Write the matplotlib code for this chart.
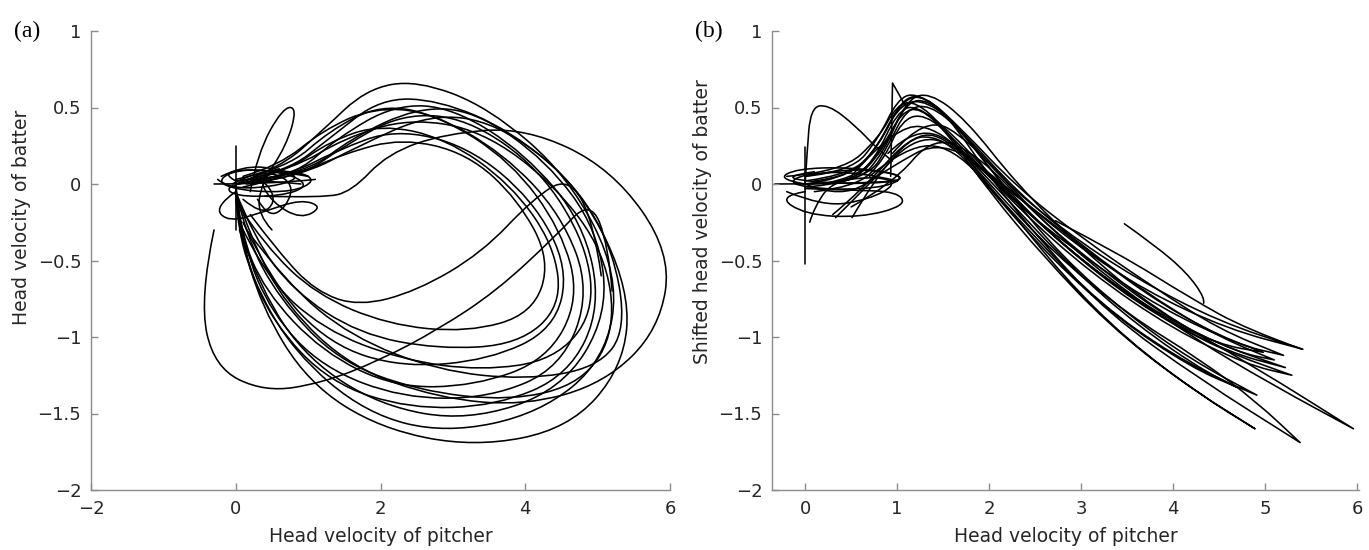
import numpy as np
import matplotlib
matplotlib.use("Agg")
import matplotlib.pyplot as plt
from matplotlib.path import Path
from matplotlib.patches import PathPatch

# ---------------- data (control points) ----------------
# Panel (a): head velocity of pitcher (x) vs head velocity of batter (y)
a_loop01 = [(0.05,0.02),(0.7,0.08),(1.3,0.3),(2.0,0.56),(2.8,0.55),(3.8,0.35),(4.8,-0.05),(5.45,-0.7),(5.35,-1.2),(4.6,-1.6),(3.3,-1.72),(2.0,-1.6),(1.0,-1.3),(0.35,-0.8),(0.05,-0.3),(0.0,0.0)]
a_loop02 = [(0.0,0.0),(0.6,0.1),(1.2,0.35),(1.8,0.62),(2.5,0.68),(3.5,0.5),(4.6,0.05),(5.3,-0.6),(5.1,-1.15),(4.2,-1.5),(2.9,-1.63),(1.8,-1.5),(0.8,-1.1),(0.2,-0.6),(0.0,-0.2),(0.0,0.0)]
a_loop03 = [(0.1,-0.02),(0.8,0.05),(1.4,0.3),(2.2,0.52),(3.0,0.5),(4.0,0.2),(4.8,-0.25),(5.05,-0.8),(4.6,-1.25),(3.6,-1.45),(2.4,-1.47),(1.3,-1.3),(0.5,-0.9),(0.1,-0.45),(0.0,-0.1)]
a_loop04 = [(0.0,0.03),(0.7,0.1),(1.3,0.35),(2.0,0.52),(2.8,0.45),(3.8,0.15),(4.5,-0.3),(4.75,-0.75),(4.3,-1.15),(3.3,-1.32),(2.2,-1.33),(1.2,-1.1),(0.4,-0.7),(0.05,-0.3),(0.0,0.0)]
a_loop05 = [(0.2,0.0),(0.9,0.05),(1.5,0.25),(2.3,0.46),(3.2,0.43),(4.2,0.1),(4.85,-0.4),(4.95,-0.85),(4.4,-1.15),(3.4,-1.22),(2.3,-1.15),(1.2,-0.95),(0.4,-0.6),(0.05,-0.25)]
a_loop06 = [(0.1,0.02),(0.8,0.1),(1.5,0.3),(2.4,0.43),(3.4,0.35),(4.4,0.0),(5.1,-0.45),(5.25,-0.95),(4.8,-1.3),(3.8,-1.42),(2.5,-1.35),(1.4,-1.15),(0.6,-0.75),(0.15,-0.35),(0.0,-0.05)]
a_loop07 = [(0.05,0.0),(0.7,0.08),(1.3,0.28),(2.0,0.39),(2.9,0.3),(3.8,0.0),(4.4,-0.4),(4.5,-0.8),(3.9,-1.05),(2.8,-1.08),(1.7,-0.98),(0.8,-0.7),(0.25,-0.35),(0.0,-0.05)]
a_loop08 = [(0.3,0.02),(1.0,0.08),(1.6,0.3),(2.5,0.5),(3.3,0.48),(4.3,0.15),(5.0,-0.3),(5.15,-0.85),(4.5,-1.35),(3.2,-1.55),(2.0,-1.45),(1.0,-1.15),(0.35,-0.7),(0.05,-0.3)]
a_loop09 = [(0.0,0.0),(0.7,0.05),(1.4,0.22),(2.2,0.36),(3.2,0.25),(4.1,-0.1),(4.6,-0.55),(4.4,-0.95),(3.5,-1.15),(2.3,-1.2),(1.3,-1.05),(0.5,-0.65),(0.1,-0.25)]
a_loop10 = [(0.15,0.0),(0.9,0.05),(1.7,0.25),(2.7,0.46),(3.6,0.4),(4.6,0.05),(5.2,-0.4),(5.4,-0.95),(5.0,-1.2),(4.0,-1.28),(2.8,-1.22),(1.6,-1.0),(0.7,-0.65),(0.15,-0.3)]
a_loop11 = [(0.0,0.02),(0.8,0.05),(1.5,0.2),(2.3,0.3),(3.2,0.2),(3.9,-0.1),(4.35,-0.5),(4.1,-0.85),(3.2,-0.97),(2.1,-0.92),(1.1,-0.72),(0.4,-0.4),(0.05,-0.15)]
a_loop12 = [(0.1,0.05),(0.6,0.12),(1.2,0.35),(1.9,0.5),(2.7,0.47),(3.7,0.2),(4.5,-0.2),(4.9,-0.7),(4.5,-1.2),(3.5,-1.4),(2.3,-1.4),(1.2,-1.2),(0.5,-0.85),(0.1,-0.4),(0.0,-0.05)]
a_loop13 = [(0.4,-0.08),(1.2,-0.09),(1.6,-0.05),(2.1,0.2),(2.9,0.33),(4.0,0.37),(5.2,0.1),(6.02,-0.45),(5.85,-0.95),(5.1,-1.3),(4.0,-1.45),(2.8,-1.4),(1.6,-1.2),(0.7,-0.8),(0.2,-0.35),(0.0,-0.05)]
a_loop14 = [(-0.3,-0.3),(-0.5,-0.75),(-0.3,-1.2),(0.4,-1.36),(1.2,-1.3),(2.0,-1.15),(2.8,-0.95),(3.6,-0.7),(4.4,-0.35),(4.9,-0.1),(5.15,-0.4),(5.2,-0.7)]
a_loop15 = [(0.2,-0.2),(0.6,-0.45),(1.1,-0.7),(1.7,-0.8),(2.5,-0.7),(3.4,-0.45),(4.1,-0.1),(4.6,0.05),(4.95,-0.25),(5.05,-0.6)]
a_tangle1 = [(-0.05,0.0),(0.3,0.09),(0.9,0.08),(1.1,0.02),(0.8,-0.05),(0.2,-0.05),(-0.25,0.0),(-0.1,0.08),(0.4,0.1),(1.0,0.05)]
a_tangle2 = [(0.0,-0.05),(-0.3,-0.15),(-0.1,-0.25),(0.4,-0.18),(0.9,-0.1),(1.2,-0.15),(0.9,-0.23),(0.5,-0.12),(0.3,0.05),(0.6,0.1)]
a_tangle3 = [(0.2,-0.05),(0.3,0.2),(0.65,0.5),(0.85,0.5),(0.7,0.25),(0.35,0.0),(0.3,-0.2),(0.5,-0.3)]
a_tangle4 = [(-0.3,0.0),(0.5,0.0),(1.1,0.03)]
a_tangle5 = [(0.0,0.02),(-0.2,0.07),(0.2,0.1),(0.8,0.06),(1.0,-0.02),(0.6,-0.08),(0.0,-0.08),(-0.15,-0.02),(0.3,0.03),(0.9,0.0)]
a_tangle6 = [(0.1,-0.1),(0.35,-0.2),(0.55,-0.12),(0.45,0.0),(0.2,0.05),(0.5,0.08),(0.8,0.0),(0.7,-0.15),(0.45,-0.22),(0.3,-0.1)]
a_tangle7 = [(-0.2,0.05),(0.1,0.12),(0.6,0.1),(0.9,0.04),(0.5,-0.02),(-0.1,-0.03),(-0.25,0.03)]
a_spike = [(0.0,0.25),(0.0,-0.3)]

# Panel (b): head velocity of pitcher (x) vs shifted head velocity of batter (y)
b_tr01 = [(0.0,0.0),(0.4,0.03),(0.75,0.2),(1.0,0.5),(1.25,0.56),(1.6,0.42),(2.1,0.05),(2.8,-0.3),(3.6,-0.62),(4.5,-0.9),(5.41,-1.08),(5.41,-1.08),(4.6,-0.95),(3.7,-0.7),(2.9,-0.38),(2.2,-0.02),(1.5,0.3),(0.9,0.1),(0.4,-0.1),(0.0,0.0)]
b_tr02 = [(0.1,0.02),(0.5,0.05),(0.8,0.25),(1.05,0.55),(1.3,0.58),(1.65,0.38),(2.2,-0.05),(2.9,-0.45),(3.7,-0.8),(4.5,-1.05),(5.22,-1.2),(5.22,-1.2),(4.6,-1.1),(3.8,-0.85),(3.0,-0.5),(2.3,-0.12),(1.6,0.28),(1.2,0.35),(0.6,-0.05),(0.3,-0.2)]
b_tr03 = [(-0.1,0.0),(0.45,0.0),(0.75,0.15),(1.0,0.47),(1.2,0.52),(1.6,0.33),(2.1,0.0),(2.8,-0.4),(3.6,-0.78),(4.5,-1.08),(5.29,-1.25),(5.29,-1.25),(4.8,-1.18),(4.0,-0.95),(3.1,-0.58),(2.3,-0.15),(1.7,0.25),(1.2,0.38),(0.9,0.2)]
b_tr04 = [(0.0,-0.02),(0.5,0.0),(0.85,0.22),(1.1,0.54),(1.35,0.55),(1.7,0.35),(2.2,-0.05),(2.8,-0.48),(3.5,-0.85),(4.2,-1.15),(4.91,-1.38),(4.91,-1.38),(4.4,-1.25),(3.6,-0.92),(2.9,-0.55),(2.2,-0.1),(1.6,0.28),(1.17,0.3),(0.7,0.0),(0.33,-0.22)]
b_tr05 = [(0.2,0.0),(0.6,0.05),(0.85,0.25),(1.05,0.47),(1.25,0.5),(1.55,0.33),(2.0,-0.05),(2.6,-0.48),(3.3,-0.92),(4.1,-1.3),(4.89,-1.6),(4.89,-1.6),(4.3,-1.38),(3.5,-1.02),(2.8,-0.6),(2.2,-0.15),(1.6,0.25),(1.1,0.25),(0.7,0.05)]
b_tr06 = [(0.0,0.05),(0.5,0.08),(0.8,0.3),(1.0,0.55),(1.2,0.6),(1.55,0.45),(2.0,0.05),(2.6,-0.4),(3.3,-0.85),(4.3,-1.28),(5.38,-1.69),(5.38,-1.69),(4.9,-1.42),(4.3,-1.15),(3.5,-0.85),(2.7,-0.45),(2.0,0.0),(1.5,0.35),(1.0,0.4),(0.5,0.05)]
b_tr07 = [(0.0,0.0),(0.55,0.0),(0.85,0.2),(1.1,0.55),(1.35,0.6),(1.75,0.42),(2.3,0.0),(3.0,-0.42),(3.8,-0.82),(4.9,-1.2),(5.96,-1.6),(5.96,-1.6),(5.1,-1.32),(4.2,-1.0),(3.3,-0.62),(2.5,-0.2),(1.8,0.28),(1.3,0.45),(0.95,0.2)]
b_tr08 = [(-0.2,0.05),(0.4,0.08),(0.8,0.3),(1.0,0.52),(1.2,0.54),(1.5,0.38),(1.9,0.05),(2.5,-0.35),(3.2,-0.78),(4.0,-1.12),(4.7,-1.33),(4.7,-1.33),(4.2,-1.2),(3.4,-0.88),(2.7,-0.5),(2.1,-0.1),(1.5,0.33),(1.0,0.28),(0.51,-0.22)]
b_tr09 = [(0.1,-0.05),(0.55,-0.02),(0.85,0.15),(1.05,0.42),(1.3,0.46),(1.65,0.28),(2.2,-0.08),(2.9,-0.42),(3.7,-0.75),(4.4,-0.97),(4.98,-1.1),(4.98,-1.1),(4.5,-1.05),(3.8,-0.85),(3.0,-0.5),(2.3,-0.12),(1.7,0.22)]
b_tr10 = [(0.3,0.0),(0.7,0.05),(0.9,0.25),(1.1,0.49),(1.35,0.52),(1.7,0.35),(2.3,-0.05),(3.0,-0.4),(3.8,-0.75),(4.5,-1.0),(5.1,-1.15),(5.1,-1.15),(4.7,-1.1),(4.0,-0.9),(3.2,-0.55),(2.5,-0.2),(1.9,0.18),(1.4,0.32),(0.95,0.0),(0.5,-0.15)]
b_tr11 = [(2.72,-0.24),(3.4,-0.45),(4.2,-0.75),(4.8,-0.95),(5.4,-1.08)]
b_tr12 = [(3.47,-0.26),(3.8,-0.4),(4.15,-0.58),(4.35,-0.75),(4.33,-0.78)]
b_tr13 = [(0.0,0.02),(0.5,0.06),(0.8,0.25),(1.05,0.56),(1.3,0.58),(1.7,0.36),(2.3,-0.02),(3.0,-0.35),(3.8,-0.68),(4.5,-0.95),(5.2,-1.12),(5.2,-1.12),(4.7,-1.05),(3.9,-0.8),(3.1,-0.45),(2.3,-0.08),(1.8,0.15)]
b_hump = [(0.0,0.0),(0.02,0.2),(0.06,0.5),(0.25,0.52),(0.55,0.38),(0.8,0.22),(0.95,0.15)]
b_peak = [(0.93,0.05),(0.95,0.66),(0.95,0.66),(1.1,0.5)]
b_tangle1 = [(0.0,0.0),(-0.3,0.03),(-0.1,0.1),(0.5,0.11),(1.1,0.06),(0.9,-0.02),(0.3,-0.04),(-0.2,0.0),(0.0,0.07),(0.6,0.08),(1.0,0.02)]
b_tangle2 = [(0.0,-0.05),(-0.3,-0.08),(0.0,-0.2),(0.6,-0.22),(1.1,-0.14),(1.0,-0.05),(0.5,-0.04),(0.0,-0.03)]
b_tangle3 = [(-0.2,-0.05),(0.2,-0.15),(0.7,-0.1),(1.0,0.0),(0.8,0.05),(0.3,0.02),(0.1,-0.15),(0.05,-0.25)]
b_tangle4 = [(-0.33,0.0),(0.5,0.0),(1.0,0.02)]
b_tangle5 = [(0.0,0.05),(0.4,0.1),(0.9,0.08),(1.1,0.03),(0.7,0.0),(0.1,0.01),(-0.25,0.05),(0.1,0.08)]
b_spike = [(0.0,0.24),(0.0,-0.52)]

a_curves = [a_loop01, a_loop02, a_loop03, a_loop04, a_loop05, a_loop06, a_loop07,
            a_loop08, a_loop09, a_loop10, a_loop11, a_loop12, a_loop13, a_loop14,
            a_loop15, a_tangle1, a_tangle2, a_tangle3, a_tangle4, a_tangle5,
            a_tangle6, a_tangle7, a_spike]
b_curves = [b_tr01, b_tr02, b_tr03, b_tr04, b_tr05, b_tr06, b_tr07, b_tr08, b_tr09,
            b_tr10, b_tr11, b_tr12, b_tr13, b_hump, b_peak, b_tangle1, b_tangle2,
            b_tangle3, b_tangle4, b_tangle5, b_spike]

a_xticks = [-2, 0, 2, 4, 6]
b_xticks = [0, 1, 2, 3, 4, 5, 6]
yticks = [-2, -1.5, -1, -0.5, 0, 0.5, 1]
ytick_labels = ["\u22122", "\u22121.5", "\u22121", "\u22120.5", "0", "0.5", "1"]

# ---------------- drawing ----------------
def curve_path(pts):
    p = np.asarray(pts, dtype=float)
    if len(p) < 3:
        return Path(p)
    verts = [p[0]]
    codes = [Path.MOVETO]
    n = len(p)
    for i in range(1, n - 1):
        end = (p[i] + p[i + 1]) / 2 if i < n - 2 else p[i + 1]
        verts += [p[i], end]
        codes += [Path.CURVE3, Path.CURVE3]
    return Path(verts, codes)

W, H = 1369, 550
fig = plt.figure(figsize=(W / 100, H / 100), dpi=100)
plt.rcParams['font.family'] = ['DejaVu Sans']

def px_axes(l, r, t, b):
    return fig.add_axes([l / W, 1 - b / H, (r - l) / W, (b - t) / H])

axA = px_axes(91, 670, 31, 490)
axB = px_axes(772, 1359, 31, 490)

axis_col = '#8c8c8c'
for ax, curves, xt, xl, yl, ylx, ylc in [
        (axA, a_curves, a_xticks, (-2, 6), 'Head velocity of batter', -0.104, 0.595),
        (axB, b_curves, b_xticks, (-0.36, 6.02), 'Shifted head velocity of batter', -0.102, 0.585)]:
    for c in curves:
        ax.add_patch(PathPatch(curve_path(c), fill=False, lw=1.15, ec='black',
                               capstyle='round', joinstyle='round'))
    ax.set_xlim(*xl)
    ax.set_ylim(-2, 1)
    ax.set_xticks(xt)
    ax.set_xticklabels([("\u2212%d" % -v) if v < 0 else str(v) for v in xt])
    ax.set_yticks(yticks)
    ax.set_yticklabels(ytick_labels)
    for s in ['top', 'right']:
        ax.spines[s].set_visible(False)
    for s in ['left', 'bottom']:
        ax.spines[s].set_color(axis_col)
        ax.spines[s].set_linewidth(1.0)
    ax.tick_params(direction='in', length=5, width=1.0, color=axis_col,
                   labelsize=13, labelcolor='#262626', pad=7)
    ax.set_xlabel('Head velocity of pitcher', fontsize=13.5, color='#262626')
    ax.set_ylabel(yl, fontsize=13.5, color='#262626')
    ax.xaxis.set_label_coords(0.5, -0.08)
    ax.yaxis.set_label_coords(ylx, ylc)
    ax.set_facecolor('white')

fig.text(14 / W, 1 - 31 / H, '(a)', fontsize=17, family='Liberation Serif', va='center', ha='left')
fig.text(695 / W, 1 - 31 / H, '(b)', fontsize=17, family='Liberation Serif', va='center', ha='left')

fig.savefig('out.png', dpi=100, facecolor='white')
